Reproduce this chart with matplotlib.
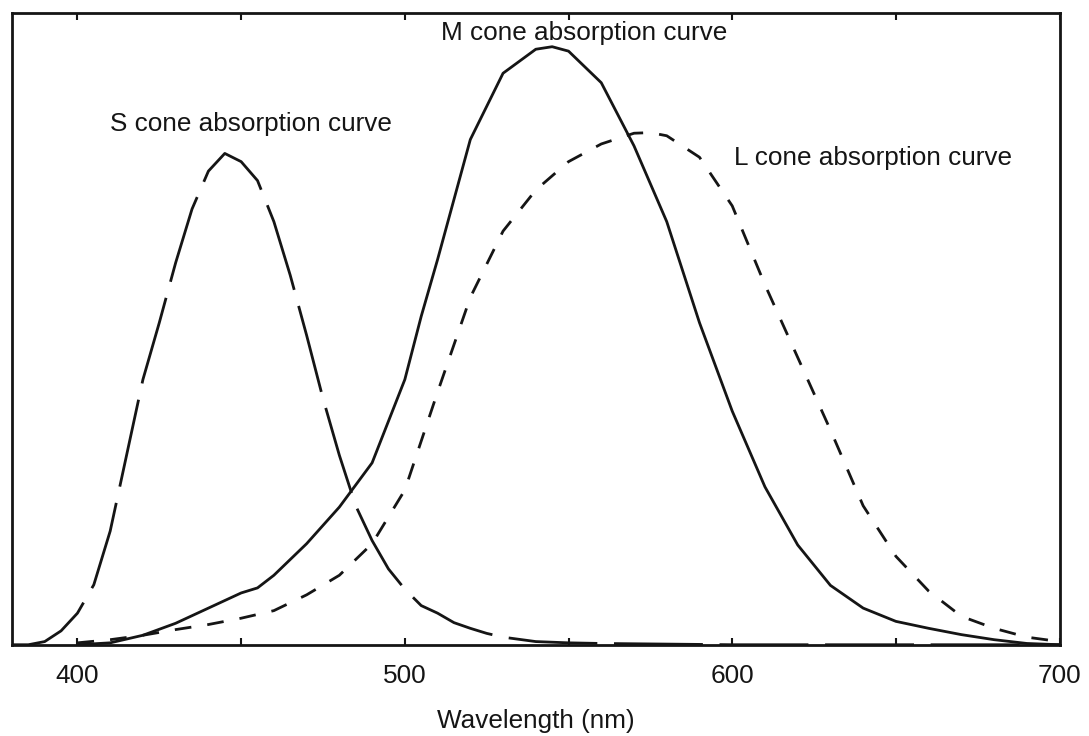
import matplotlib
matplotlib.use("Agg")
import matplotlib.pyplot as plt

# cone absorption curves (relative units, top of axes = 1)
s_nm = [380, 385, 390, 395, 400, 405, 410, 415, 420, 425, 430, 435, 440, 445, 450,
        455, 460, 465, 470, 475, 480, 485, 490, 495, 500, 505, 510, 515, 520, 525,
        530, 540, 550, 560, 580, 600, 650, 700]
s_abs = [0.0, 0.0, 0.005, 0.022, 0.050, 0.095, 0.18, 0.30, 0.42, 0.51, 0.605, 0.69,
         0.75, 0.778, 0.765, 0.735, 0.67, 0.585, 0.49, 0.39, 0.30, 0.22, 0.165, 0.12,
         0.088, 0.062, 0.05, 0.035, 0.026, 0.018, 0.012, 0.005, 0.003, 0.002, 0.001,
         0.0, 0.0, 0.0]

m_nm = [400, 410, 420, 430, 440, 450, 455, 460, 470, 480, 490, 500, 505, 510, 520,
        530, 540, 545, 550, 560, 570, 580, 590, 600, 610, 620, 630, 640, 650, 660,
        670, 680, 690, 700]
m_abs = [0.0, 0.003, 0.015, 0.034, 0.058, 0.082, 0.090, 0.110, 0.160, 0.218, 0.288,
         0.42, 0.52, 0.61, 0.80, 0.905, 0.943, 0.947, 0.94, 0.89, 0.79, 0.67, 0.51,
         0.37, 0.25, 0.158, 0.094, 0.058, 0.037, 0.026, 0.016, 0.008, 0.002, 0.0]

l_nm = [400, 410, 420, 430, 440, 450, 460, 470, 480, 490, 500, 510, 520, 530, 540,
        550, 560, 570, 575, 580, 590, 600, 610, 620, 630, 640, 650, 660, 670, 680,
        690, 700]
l_abs = [0.003, 0.008, 0.015, 0.024, 0.032, 0.042, 0.054, 0.079, 0.11, 0.16, 0.245,
         0.40, 0.55, 0.655, 0.72, 0.765, 0.793, 0.81, 0.811, 0.806, 0.772, 0.695,
         0.57, 0.455, 0.34, 0.22, 0.14, 0.085, 0.045, 0.026, 0.012, 0.005]

labels = ["S cone absorption curve", "M cone absorption curve", "L cone absorption curve"]
label_pos = [(410, 0.824), (511, 0.968), (600.5, 0.771)]

plt.rcParams['font.family'] = ['Liberation Sans', 'DejaVu Sans']
ink = '#151515'

fig = plt.figure(figsize=(10.89, 7.36), dpi=100)
ax = fig.add_axes([0.011, 0.124, 0.962, 0.858])

ax.plot(s_nm, s_abs, color=ink, lw=2.0, dashes=(32, 6))
ax.plot(m_nm, m_abs, color=ink, lw=2.0)
ax.plot(l_nm, l_abs, color=ink, lw=2.0, dashes=(6, 5.8))

for text, (x, y) in zip(labels, label_pos):
    ax.text(x, y, text, fontsize=18.8, color=ink, ha='left', va='center')

ax.set_xlim(380, 700)
ax.set_ylim(0, 1)
ax.set_xticks([400, 500, 600, 700])
ax.set_xticks([450, 550, 650], minor=True)
ax.set_yticks([])
ax.tick_params(axis='x', which='both', direction='in', length=5, width=1.5,
               top=True, labelsize=18.8, pad=14, colors=ink)
for sp in ax.spines.values():
    sp.set_linewidth(2.0)
    sp.set_color(ink)

ax.set_xlabel('Wavelength (nm)', fontsize=18.8, color=ink, labelpad=15)

fig.savefig('out.png', dpi=100)
